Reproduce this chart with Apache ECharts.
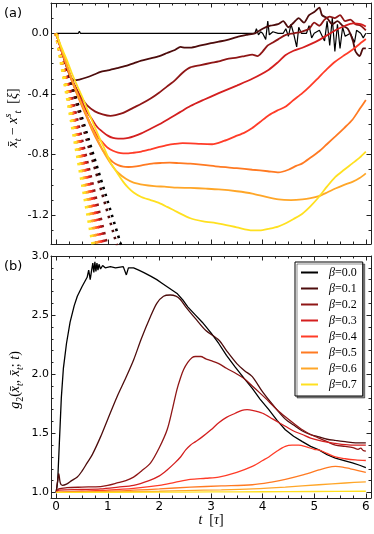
<!DOCTYPE html>
<html><head><meta charset="utf-8">
<script src="https://cdn.jsdelivr.net/npm/echarts@6/dist/echarts.min.js"></script>
<style>html,body{margin:0;padding:0;background:#fff}#c{width:374px;height:534px}</style>
</head><body><div id="c"></div>
<script>
// ---------- names / colours ----------
const betaNames = ['β=0.0','β=0.1','β=0.2','β=0.3','β=0.4','β=0.5','β=0.6','β=0.7'];
const colors = ['#000000','#4d0c0c','#8f1616','#d41f1f','#ff3c28','#ff7a22','#ffa628','#ffe020'];

// ---------- tick values ----------
const xTickLabels = [0,1,2,3,4,5,6];
const yTopTickLabels = [-1.2,-0.8,-0.4,0.0];
const yBotTickLabels = [1.0,1.5,2.0,2.5,3.0];
const xMinor = []; for (let i=0;i<=24;i++) xMinor.push(i*0.25);
const yTopMinor = []; for (let i=-13;i<=2;i++) yTopMinor.push(i/10);
const yBotMinor = []; for (let i=10;i<=30;i++) yBotMinor.push(i/10);

// ---------- panel (a): dashed initial-slope lines: t where each reaches -1.4 ----------
const dashEndV = -1.4;
const dashEndT = [1.26, 1.18, 0.98, 0.92, 0.87, 0.82, 0.78, 0.72];

// ---------- panel (a): mean displacement ----------
const a0 = [[0,0],[0.43,0],[0.45,0.014],[0.47,0],[0.9,0],[0.91,0.012],[0.93,0],[0.98,0],[0.99,0.012],[1.01,0],[1.04,0],[1.05,0.013],[1.07,0],[1.1,0],[1.11,0.012],[1.13,0],[1.16,0],[1.17,0.01],[1.19,0],[1.42,0],[1.43,0.012],[1.45,0],[1.67,0],[1.68,0.012],[1.7,0],[3.85,0],[3.88,0.03],[3.92,-0.01],[3.96,0.01],[4.0,0],[4.06,-0.04],[4.1,0.08],[4.13,-0.01],[4.2,0.01],[4.3,0],[4.4,0],[4.45,0.03],[4.5,-0.02],[4.55,0.06],[4.6,0],[4.66,-0.09],[4.7,0.04],[4.75,0],[4.85,0],[4.9,0.05],[4.95,-0.03],[5.0,0],[5.1,0.02],[5.2,-0.05],[5.25,0.08],[5.3,-0.08],[5.35,0.1],[5.4,-0.12],[5.45,0.06],[5.5,-0.1],[5.55,0.04],[5.6,-0.02],[5.7,0],[5.78,-0.06],[5.82,0.02],[5.9,0],[5.95,-0.03],[6.0,0]];
const a1 = [[0,0],[0.1,-0.11],[0.2,-0.22],[0.28,-0.29],[0.35,-0.31],[0.45,-0.305],[0.6,-0.29],[0.75,-0.27],[0.86,-0.255],[1.0,-0.245],[1.18,-0.23],[1.35,-0.215],[1.5,-0.198],[1.65,-0.18],[1.83,-0.165],[2.0,-0.15],[2.15,-0.13],[2.3,-0.11],[2.41,-0.09],[2.5,-0.095],[2.6,-0.095],[2.8,-0.08],[3.0,-0.065],[3.15,-0.055],[3.3,-0.045],[3.5,-0.025],[3.7,-0.01],[3.85,0.0],[4.0,0.03],[4.15,0.05],[4.3,0.06],[4.4,0.08],[4.5,0.04],[4.6,0.07],[4.7,0.1],[4.8,0.07],[4.9,0.12],[5.0,0.14],[5.1,0.17],[5.15,0.12],[5.25,0.1],[5.35,0.06],[5.45,0.08],[5.55,0.05],[5.65,0.03],[5.75,-0.05],[5.8,-0.12],[5.88,-0.15],[5.95,-0.1],[6.0,-0.1]];
const a2 = [[0,0],[0.1,-0.11],[0.2,-0.21],[0.3,-0.3],[0.4,-0.37],[0.5,-0.43],[0.6,-0.475],[0.75,-0.515],[0.9,-0.535],[1.05,-0.545],[1.15,-0.54],[1.3,-0.525],[1.5,-0.49],[1.65,-0.465],[1.83,-0.43],[2.0,-0.39],[2.15,-0.35],[2.3,-0.31],[2.45,-0.26],[2.6,-0.225],[2.8,-0.21],[3.0,-0.195],[3.15,-0.185],[3.3,-0.17],[3.5,-0.16],[3.65,-0.15],[3.8,-0.14],[3.9,-0.15],[4.0,-0.12],[4.1,-0.08],[4.2,-0.06],[4.3,-0.04],[4.45,-0.01],[4.6,0.0],[4.75,0.01],[4.9,0.03],[5.0,0.07],[5.1,0.05],[5.2,0.09],[5.3,0.11],[5.4,0.1],[5.5,0.12],[5.6,0.08],[5.7,0.09],[5.8,0.06],[5.9,0.05],[6.0,0.02]];
const a3 = [[0,0],[0.1,-0.11],[0.2,-0.21],[0.3,-0.3],[0.4,-0.38],[0.5,-0.45],[0.6,-0.52],[0.7,-0.57],[0.8,-0.62],[0.9,-0.65],[1.0,-0.675],[1.1,-0.69],[1.2,-0.695],[1.3,-0.695],[1.4,-0.69],[1.5,-0.68],[1.65,-0.66],[1.83,-0.63],[2.0,-0.6],[2.2,-0.56],[2.4,-0.52],[2.6,-0.48],[2.85,-0.44],[3.15,-0.395],[3.5,-0.345],[3.8,-0.3],[4.12,-0.24],[4.3,-0.19],[4.44,-0.145],[4.6,-0.115],[4.77,-0.095],[5.09,-0.045],[5.41,0.02],[5.6,0.05],[5.75,0.065],[5.9,0.06],[6.0,0.045]];
const a4 = [[0,0],[0.1,-0.11],[0.2,-0.21],[0.3,-0.31],[0.4,-0.39],[0.5,-0.47],[0.6,-0.55],[0.7,-0.62],[0.8,-0.68],[0.9,-0.72],[1.0,-0.755],[1.1,-0.775],[1.2,-0.787],[1.3,-0.792],[1.4,-0.792],[1.5,-0.788],[1.65,-0.78],[1.83,-0.765],[2.0,-0.75],[2.15,-0.738],[2.3,-0.73],[2.45,-0.725],[2.6,-0.726],[2.8,-0.73],[3.02,-0.732],[3.25,-0.71],[3.47,-0.68],[3.65,-0.655],[3.8,-0.625],[3.95,-0.585],[4.12,-0.54],[4.28,-0.51],[4.44,-0.485],[4.6,-0.44],[4.77,-0.395],[4.93,-0.345],[5.09,-0.29],[5.25,-0.235],[5.41,-0.186],[5.58,-0.145],[5.74,-0.109],[5.88,-0.07],[6.0,-0.038]];
const a5 = [[0,0],[0.1,-0.11],[0.2,-0.21],[0.3,-0.31],[0.4,-0.4],[0.5,-0.48],[0.6,-0.56],[0.7,-0.64],[0.8,-0.71],[0.9,-0.77],[1.0,-0.815],[1.1,-0.85],[1.2,-0.87],[1.3,-0.88],[1.4,-0.882],[1.55,-0.878],[1.7,-0.868],[1.89,-0.858],[2.05,-0.855],[2.2,-0.853],[2.4,-0.857],[2.6,-0.86],[2.85,-0.868],[3.15,-0.88],[3.5,-0.89],[3.8,-0.9],[4.1,-0.91],[4.31,-0.918],[4.5,-0.9],[4.65,-0.875],[4.77,-0.858],[4.93,-0.82],[5.09,-0.78],[5.25,-0.73],[5.41,-0.68],[5.58,-0.625],[5.74,-0.57],[5.88,-0.5],[6.0,-0.44]];
const a6 = [[0,0],[0.1,-0.1],[0.2,-0.2],[0.3,-0.3],[0.4,-0.39],[0.5,-0.47],[0.6,-0.55],[0.7,-0.63],[0.8,-0.7],[0.9,-0.77],[1.0,-0.83],[1.1,-0.88],[1.2,-0.92],[1.35,-0.96],[1.5,-0.985],[1.7,-1.0],[1.9,-1.008],[2.1,-1.012],[2.35,-1.018],[2.6,-1.02],[2.9,-1.025],[3.15,-1.03],[3.5,-1.042],[3.8,-1.057],[4.05,-1.078],[4.31,-1.096],[4.55,-1.1],[4.77,-1.096],[4.93,-1.088],[5.09,-1.074],[5.25,-1.05],[5.41,-1.024],[5.58,-1.0],[5.74,-0.98],[5.88,-0.955],[6.0,-0.924]];
const a7 = [[0,0],[0.1,-0.09],[0.2,-0.17],[0.3,-0.26],[0.4,-0.34],[0.53,-0.44],[0.65,-0.54],[0.75,-0.62],[0.85,-0.7],[0.92,-0.75],[1.05,-0.85],[1.18,-0.92],[1.3,-0.98],[1.4,-1.02],[1.5,-1.05],[1.65,-1.08],[1.83,-1.1],[2.0,-1.12],[2.15,-1.145],[2.35,-1.18],[2.6,-1.22],[2.85,-1.24],[3.15,-1.255],[3.5,-1.28],[3.8,-1.3],[4.0,-1.298],[4.12,-1.29],[4.3,-1.275],[4.44,-1.255],[4.6,-1.225],[4.77,-1.19],[4.93,-1.14],[5.09,-1.08],[5.25,-1.01],[5.41,-0.947],[5.58,-0.9],[5.74,-0.858],[5.88,-0.82],[6.0,-0.78]];

// ---------- panel (b): g2 ----------
const b0 = [[0,1.0],[0.03,1.1],[0.06,1.4],[0.1,1.8],[0.14,2.05],[0.2,2.26],[0.27,2.44],[0.35,2.58],[0.41,2.66],[0.5,2.74],[0.6,2.82],[0.63,2.88],[0.66,2.8],[0.68,2.86],[0.71,2.94],[0.73,2.86],[0.75,2.95],[0.77,2.87],[0.79,2.94],[0.81,2.88],[0.83,2.93],[0.86,2.89],[0.9,2.92],[0.95,2.9],[1.05,2.91],[1.15,2.9],[1.3,2.91],[1.36,2.84],[1.4,2.9],[1.5,2.9],[1.6,2.88],[1.7,2.86],[1.83,2.83],[1.95,2.8],[2.05,2.77],[2.15,2.74],[2.25,2.71],[2.35,2.68],[2.45,2.63],[2.55,2.57],[2.7,2.5],[2.83,2.44],[3.0,2.35],[3.15,2.26],[3.3,2.16],[3.47,2.06],[3.65,1.96],[3.8,1.88],[3.95,1.79],[4.12,1.7],[4.28,1.61],[4.44,1.53],[4.6,1.475],[4.77,1.43],[4.93,1.39],[5.09,1.36],[5.25,1.32],[5.41,1.29],[5.58,1.27],[5.74,1.25],[5.88,1.23],[6.0,1.21]];
const b1 = [[0,1.0],[0.03,1.1],[0.05,1.16],[0.08,1.08],[0.12,1.06],[0.2,1.07],[0.3,1.1],[0.41,1.13],[0.5,1.18],[0.6,1.25],[0.7,1.32],[0.86,1.47],[1.0,1.62],[1.18,1.81],[1.35,1.97],[1.5,2.12],[1.65,2.3],[1.83,2.49],[1.95,2.6],[2.08,2.66],[2.21,2.67],[2.32,2.66],[2.41,2.63],[2.51,2.57],[2.7,2.47],[2.9,2.37],[3.15,2.29],[3.3,2.2],[3.5,2.09],[3.65,2.03],[3.8,1.98],[4.0,1.85],[4.2,1.74],[4.44,1.62],[4.6,1.57],[4.77,1.52],[4.93,1.49],[5.09,1.47],[5.25,1.45],[5.41,1.44],[5.6,1.43],[5.8,1.42],[6.0,1.42]];
const b2 = [[0,1.0],[0.05,1.03],[0.21,1.04],[0.5,1.045],[0.86,1.05],[1.0,1.06],[1.18,1.08],[1.35,1.1],[1.5,1.13],[1.65,1.18],[1.83,1.25],[2.0,1.38],[2.15,1.53],[2.25,1.7],[2.34,1.87],[2.41,1.97],[2.47,2.04],[2.55,2.1],[2.63,2.14],[2.7,2.15],[2.8,2.15],[2.9,2.13],[3.0,2.115],[3.15,2.09],[3.3,2.05],[3.47,2.01],[3.65,1.96],[3.8,1.9],[3.95,1.84],[4.12,1.77],[4.28,1.7],[4.44,1.64],[4.6,1.585],[4.77,1.53],[4.93,1.49],[5.09,1.46],[5.25,1.43],[5.41,1.4],[5.6,1.39],[5.75,1.38],[5.85,1.365],[5.9,1.375],[5.95,1.355],[6.0,1.35]];
const b3 = [[0,1.0],[0.05,1.02],[0.5,1.025],[0.86,1.03],[1.2,1.045],[1.5,1.06],[1.8,1.1],[2.0,1.14],[2.15,1.19],[2.3,1.25],[2.41,1.3],[2.51,1.36],[2.6,1.4],[2.7,1.43],[2.83,1.47],[3.0,1.53],[3.15,1.59],[3.3,1.635],[3.47,1.67],[3.6,1.695],[3.7,1.7],[3.8,1.695],[4.0,1.67],[4.2,1.62],[4.44,1.56],[4.6,1.52],[4.77,1.49],[4.93,1.46],[5.09,1.44],[5.25,1.425],[5.41,1.415],[5.6,1.405],[5.8,1.4],[6.0,1.4]];
const b4 = [[0,1.0],[0.5,1.01],[1.0,1.02],[1.5,1.035],[2.0,1.06],[2.3,1.085],[2.6,1.11],[2.9,1.12],[3.15,1.13],[3.5,1.17],[3.8,1.22],[4.0,1.27],[4.12,1.3],[4.28,1.35],[4.44,1.39],[4.57,1.4],[4.7,1.4],[4.85,1.385],[5.0,1.365],[5.09,1.36],[5.25,1.33],[5.41,1.3],[5.6,1.285],[5.8,1.275],[6.0,1.27]];
const b5 = [[0,1.0],[1.0,1.01],[2.0,1.03],[2.6,1.045],[3.2,1.055],[3.8,1.065],[4.2,1.09],[4.44,1.11],[4.8,1.15],[5.09,1.19],[5.25,1.21],[5.41,1.22],[5.55,1.215],[5.7,1.2],[5.85,1.185],[6.0,1.17]];
const b6 = [[0,1.0],[1.0,1.005],[2.0,1.01],[2.51,1.016],[3.2,1.022],[3.8,1.03],[4.44,1.045],[5.09,1.065],[5.6,1.08],[6.0,1.09]];
const b7 = [[0,1.0],[2.0,1.002],[3.0,1.004],[4.0,1.006],[5.0,1.008],[6.0,1.01]];

const topData = [a0,a1,a2,a3,a4,a5,a6,a7];
const botData = [b0,b1,b2,b3,b4,b5,b6,b7];

// ---------- axes ----------
const AX = '#222';
function xAx(grid, pos, ticks, len, line, labels) {
  return {type:'value', gridIndex:grid, position:pos, min:-0.1, max:6.1,
    axisLine:{show:line, onZero:false, lineStyle:{color:AX, width:1}},
    axisTick:{show:true, inside:true, length:len, customValues:ticks, lineStyle:{color:AX, width:1}},
    axisLabel: labels ? {show:true, customValues:labels, margin:3, color:'#000', fontSize:12, fontFamily:'DejaVu Sans', formatter:v=>String(Math.round(v))} : {show:false},
    splitLine:{show:false}};
}
function yAx(grid, pos, min, max, ticks, len, line, labels) {
  return {type:'value', gridIndex:grid, position:pos, min:min, max:max,
    axisLine:{show:line, onZero:false, lineStyle:{color:AX, width:1}},
    axisTick:{show:true, inside:true, length:len, customValues:ticks, lineStyle:{color:AX, width:1}},
    axisLabel: labels ? {show:true, customValues:labels, margin:2, color:'#000', fontSize:11, fontFamily:'DejaVu Sans', formatter:v=>(Math.abs(v)<1e-9?0:v).toFixed(1)} : {show:false},
    splitLine:{show:false}};
}
const xAxes = [
  xAx(0,'bottom',xTickLabels,4.5,true,null),
  xAx(0,'top',xTickLabels,4.5,true,null),
  xAx(0,'bottom',xMinor,2.5,false,null),
  xAx(0,'top',xMinor,2.5,false,null),
  xAx(1,'bottom',xTickLabels,4.5,true,xTickLabels),
  xAx(1,'top',xTickLabels,4.5,true,null),
  xAx(1,'bottom',xMinor,2.5,false,null),
  xAx(1,'top',xMinor,2.5,false,null)
];
const yTopMin=-1.39, yTopMax=0.2, yBotMin=0.953, yBotMax=3.0;
const yAxes = [
  yAx(0,'left',yTopMin,yTopMax,yTopTickLabels,4.5,true,yTopTickLabels),
  yAx(0,'right',yTopMin,yTopMax,yTopTickLabels,4.5,true,null),
  yAx(0,'left',yTopMin,yTopMax,yTopMinor,2.5,false,null),
  yAx(0,'right',yTopMin,yTopMax,yTopMinor,2.5,false,null),
  yAx(1,'left',yBotMin,yBotMax,yBotTickLabels,4.5,true,yBotTickLabels),
  yAx(1,'right',yBotMin,yBotMax,yBotTickLabels,4.5,true,null),
  yAx(1,'left',yBotMin,yBotMax,yBotMinor,2.5,false,null),
  yAx(1,'right',yBotMin,yBotMax,yBotMinor,2.5,false,null)
];

// ---------- series ----------
const series = [];
betaNames.forEach((n,i)=>{
  series.push({type:'line', name:'dash'+i, xAxisIndex:0, yAxisIndex:0, data:[[0,0],[dashEndT[i],dashEndV]],
    symbol:'none', silent:true, z:1, itemStyle:{color:colors[i]}, lineStyle:{color:colors[i], width: i<2 ? 2.6 : 3.6, type:[2.5,4.8], cap:'butt'}});
});
betaNames.forEach((n,i)=>{
  series.push({type:'line', name:n, xAxisIndex:0, yAxisIndex:0, data:topData[i], symbol:'none', z:3,
    itemStyle:{color:colors[i]},
    smooth: i===0 ? false : 0.25, lineStyle:{color:colors[i], width: i===0 ? 1.2 : 1.8}});
});
betaNames.forEach((n,i)=>{
  series.push({type:'line', name:n, xAxisIndex:4, yAxisIndex:4, data:botData[i], symbol:'none', z:3,
    itemStyle:{color:colors[i]},
    smooth: (i===0) ? false : 0.3, lineStyle:{color:colors[i], width:1.3}});
});

const serif = '"Liberation Serif", "DejaVu Serif", serif';
const rich = {
  i:{fontFamily:serif, fontStyle:'italic', fontSize:14, lineHeight:20, fill:'#000'},
  n:{fontFamily:serif, fontSize:14, lineHeight:20, fill:'#000'},
  sb:{fontFamily:serif, fontStyle:'italic', fontSize:10, lineHeight:12, verticalAlign:'bottom', fill:'#000'},
  sn:{fontFamily:serif, fontSize:10, lineHeight:12, verticalAlign:'bottom', fill:'#000'},
  sp:{fontFamily:serif, fontStyle:'italic', fontSize:10, lineHeight:12, verticalAlign:'top', fill:'#000'}
};

const option = {
  animation:false,
  backgroundColor:'#fff',
  grid:[
    {left:51, top:3, width:320, height:241},
    {left:51, top:256, width:320, height:242}
  ],
  xAxis:xAxes, yAxis:yAxes, series:series,
  legend:{
    data:betaNames, orient:'vertical', left:295, top:262, selectedMode:false,
    icon:'rect', itemWidth:17, itemHeight:2, itemGap:3, padding:[4,6,5,6],
    backgroundColor:'#fff', borderColor:'#000', borderWidth:1, borderRadius:0,
    shadowColor:'rgba(0,0,0,0.45)', shadowOffsetX:2, shadowOffsetY:2, shadowBlur:0,
    formatter:n=>'{i|β}{n|'+n.slice(1)+'}',
    textStyle:{padding:[0,0,0,6], lineHeight:13, rich:{
      i:{fontFamily:serif, fontStyle:'italic', fontSize:12, lineHeight:13, color:'#000'},
      n:{fontFamily:serif, fontSize:12, lineHeight:13, color:'#000'}}}
  },
  graphic:[
    {type:'text', left:4, top:7, style:{text:'(a)', font:'13px "DejaVu Sans"', fill:'#000'}},
    {type:'text', left:4, top:260, style:{text:'(b)', font:'13px "DejaVu Sans"', fill:'#000'}},
    {type:'text', x:13, y:118, rotation:Math.PI/2, style:{
      text:'{i|x\u0304}{sb|t}{n| − }{i|x}{sp|s}{sb|t}{n|  [}{i|ξ}{n|]}',
      rich:rich, align:'center', verticalAlign:'middle'}},
    {type:'text', x:15, y:380, rotation:Math.PI/2, style:{
      text:'{i|g}{sn|2}{n|(}{i|x\u0304}{sb|t}{n|, }{i|x\u0304}{sb|t}{n|; }{i|t}{n|)}',
      rich:rich, align:'center', verticalAlign:'middle'}},
    {type:'text', x:211, y:520, style:{
      text:'{i|t}{n|  [}{i|τ}{n|]}', rich:rich, align:'center', verticalAlign:'middle'}}
  ]
};
const chart = echarts.init(document.getElementById('c'), null, {renderer:'canvas'});
chart.setOption(option);
</script></body></html>
